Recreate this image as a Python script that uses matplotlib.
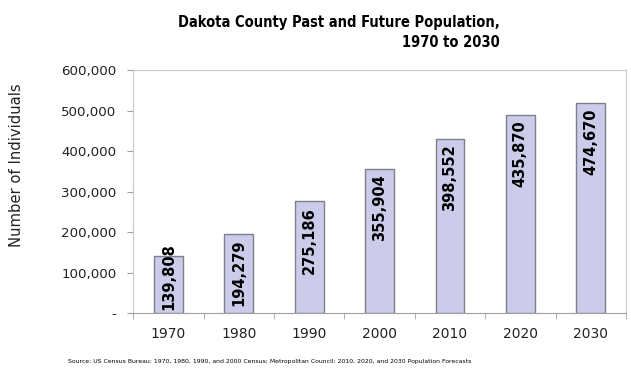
import matplotlib
matplotlib.use('Agg')
import matplotlib.pyplot as plt
from matplotlib.ticker import FuncFormatter

years = ['1970', '1980', '1990', '2000', '2010', '2020', '2030']
# bar heights as drawn in the picture
bar_values = [140000, 195000, 276000, 356000, 430000, 490000, 520000]
# labels as printed on the bars
bar_labels = ['139,808', '194,279', '275,186', '355,904', '398,552', '435,870', '474,670']
y_ticks = [0, 100000, 200000, 300000, 400000, 500000, 600000]

title = 'Dakota County Past and Future Population,\n1970 to 2030'
ylabel = 'Number of Individuals'
source = ('Source: US Census Bureau: 1970, 1980, 1990, and 2000 Census; '
          'Metropolitan Council: 2010, 2020, and 2030 Population Forecasts')

plt.rcParams['font.family'] = ['DejaVu Sans']

fig = plt.figure(figsize=(6.31, 3.79), dpi=100)
ax = fig.add_axes([0.211, 0.174, 0.781, 0.641])

x = range(len(years))
ax.bar(x, bar_values, width=0.41, color='#cccbea', edgecolor='#7f7f8c', linewidth=1.0, zorder=2)

for i, (v, lab) in enumerate(zip(bar_values, bar_labels)):
    if v < 180000:
        ax.annotate(lab, (i, 0), xytext=(0, 2), textcoords='offset points',
                    rotation=90, ha='center', va='bottom', fontsize=10.5,
                    fontweight='bold', color='black', zorder=3)
    else:
        ax.annotate(lab, (i, v), xytext=(0, -4), textcoords='offset points',
                    rotation=90, ha='center', va='top', fontsize=10.5,
                    fontweight='bold', color='black', zorder=3)

ax.set_xlim(-0.5, len(years) - 0.5)
ax.set_ylim(0, 600000)
ax.set_yticks(y_ticks)
ax.yaxis.set_major_formatter(FuncFormatter(lambda v, p: '-' if v == 0 else '{:,.0f}'.format(v)))
ax.set_xticks(list(x))
ax.set_xticklabels(years)
ax.set_xticks([i + 0.5 for i in range(-1, len(years))], minor=True)
ax.tick_params(axis='x', which='major', length=0, pad=10, labelsize=10, labelcolor='#222222')
ax.tick_params(axis='x', which='minor', length=4, color='#a0a0a0')
ax.tick_params(axis='y', length=4, color='#a0a0a0', pad=8, labelsize=9.6, labelcolor='#222222')

for side in ['top', 'right', 'left']:
    ax.spines[side].set_color('#c8c8c8')
ax.spines['bottom'].set_color('#a0a0a0')

ax.set_ylabel(ylabel, fontsize=10.6, color='#222222')
ax.yaxis.set_label_coords(-0.222, 0.61)

fig.text(0.792, 0.914, title, ha='right', va='center', fontsize=10.5,
         fontweight='bold', fontstretch='condensed', linespacing=1.4)
fig.text(0.428, 0.047, source, ha='center', va='center', fontsize=4.4)

fig.savefig('out.png', dpi=100)
